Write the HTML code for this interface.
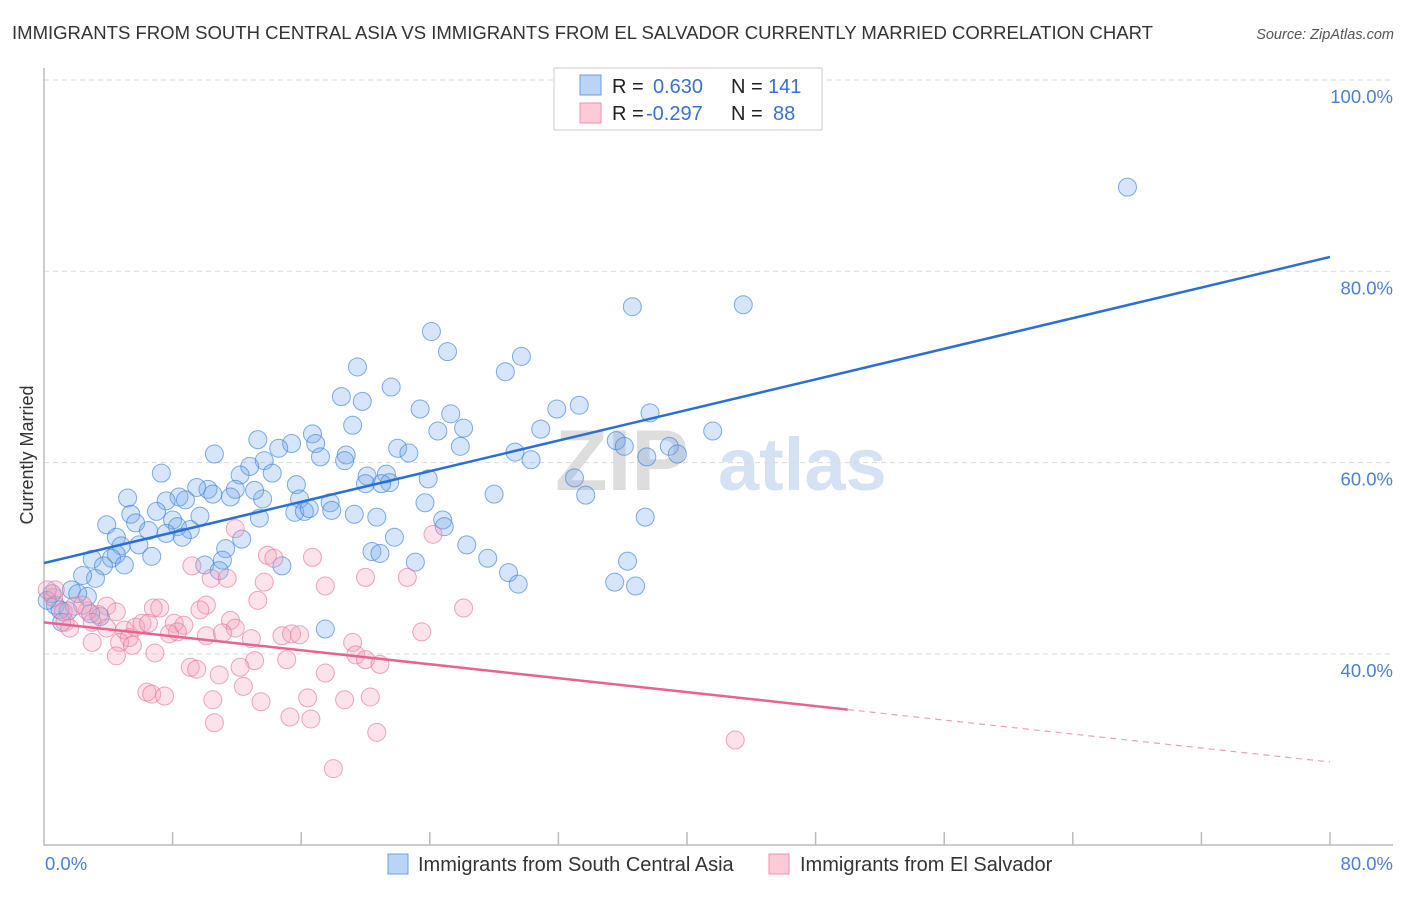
<!DOCTYPE html>
<html><head><meta charset="utf-8"><style>
body{margin:0;background:#fff;font-family:"Liberation Sans",sans-serif;}
svg text{font-family:"Liberation Sans",sans-serif;}
</style></head><body>
<svg id="chart" width="1406" height="892" xmlns="http://www.w3.org/2000/svg">
<text x="12" y="39" font-size="18.5" fill="#333" textLength="1141" lengthAdjust="spacingAndGlyphs">IMMIGRANTS FROM SOUTH CENTRAL ASIA VS IMMIGRANTS FROM EL SALVADOR CURRENTLY MARRIED CORRELATION CHART</text>
<text x="1394" y="39" font-size="14.5" fill="#555" font-style="italic" text-anchor="end">Source: ZipAtlas.com</text>
<g>
<text x="555" y="490" font-size="86" font-weight="bold" fill="#ddd" font-family="Liberation Serif">ZIP</text>
<text x="718" y="490" font-size="74" font-weight="bold" fill="#d4e2f4">atlas</text>
</g>
<g id="grid"></g>
<g id="axes"></g>
<g id="pts"></g>
<g id="trend"></g>
<text transform="translate(33,455) rotate(-90)" font-size="18" fill="#333" text-anchor="middle">Currently Married</text>
<g>
<rect x="554" y="68" width="268" height="62" fill="#fff" stroke="#ccc"/>
<rect x="580" y="75" width="21" height="20" fill="#b9d4f5" stroke="#6a9fe0"/>
<rect x="580" y="103" width="21" height="20" fill="#fdcad8" stroke="#ee93ae"/>
<text x="612" y="93" font-size="20" fill="#222">R = </text>
<text x="653" y="93" font-size="20" fill="#3a6fd8">0.630</text>
<text x="731" y="93" font-size="20" fill="#222">N = </text>
<text x="768" y="93" font-size="20" fill="#3a6fd8">141</text>
<text x="612" y="120" font-size="20" fill="#222">R = </text>
<text x="646" y="120" font-size="20" fill="#3a6fd8">-0.297</text>
<text x="731" y="120" font-size="20" fill="#222">N = </text>
<text x="773" y="120" font-size="20" fill="#3a6fd8">88</text>
</g>
<g>
<rect x="388" y="854" width="20" height="20" fill="#b9d4f5" stroke="#6a9fe0"/>
<text x="418" y="871" font-size="20" fill="#333">Immigrants from South Central Asia</text>
<rect x="769" y="854" width="20" height="20" fill="#fdcad8" stroke="#ee93ae"/>
<text x="800" y="871" font-size="20" fill="#333">Immigrants from El Salvador</text>
</g>
</svg>
<script>
const blueX=[67.4,43.5,36.6,24.1,25.1,29.7,28.7,19.5,21.6,18.5,19.8,23.4,31.9,33.3,25.3,37.7,19.2,26.1,24.5,16.7,30.9,41.6,13.3,15.4,35.6,22.0,38.9,14.6,16.9,22.7,25.9,10.6,17.2,18.8,36.1,37.5,39.4,29.3,30.3,13.7,18.7,7.3,12.8,12.2,20.1,21.3,21.5,20.0,21.0,14.2,15.7,10.2,11.9,9.5,10.5,8.4,5.2,13.6,15.9,11.6,13.1,7.6,8.8,17.8,23.9,28.0,33.0,33.7,23.7,7.0,5.4,8.0,9.7,15.6,16.2,16.5,19.3,17.9,20.7,24.8,24.9,13.4,3.9,5.7,8.3,9.1,6.5,4.5,7.6,8.6,12.3,21.8,26.3,11.3,5.9,4.8,4.5,6.7,3.0,4.2,20.4,20.9,27.6,23.1,36.3,11.1,10.0,14.8,28.9,3.7,5.0,3.2,2.4,29.5,35.5,36.8,10.9,0.5,1.7,2.7,0.7,1.5,1.0,17.5,1.1,3.5,2.1,37.4,2.9,0.2];
const blueY=[88.8,76.5,76.3,73.7,71.6,71.1,69.5,70.0,67.9,66.9,66.4,65.6,65.6,66.0,65.1,65.2,63.9,63.6,63.3,63.0,63.5,63.3,62.4,62.0,62.3,61.5,61.7,61.5,62.0,61.0,61.7,60.9,60.6,60.8,61.7,60.6,60.9,61.1,60.3,60.2,60.2,58.9,59.6,58.7,58.6,58.8,57.9,57.8,57.8,58.9,57.7,57.2,57.2,57.4,56.7,56.4,56.3,56.2,56.2,56.4,57.1,56.0,56.1,55.8,58.3,56.7,58.4,56.6,55.8,54.9,54.6,54.0,54.4,54.8,54.9,55.2,54.6,55.0,54.3,54.0,53.3,54.2,53.5,53.7,53.3,53.0,52.9,52.2,52.6,52.2,52.0,52.2,51.4,51.0,51.4,51.3,50.4,50.2,49.9,50.0,50.7,50.5,50.0,49.6,49.7,49.8,49.3,49.2,48.5,49.2,49.3,47.9,48.2,47.3,47.5,47.1,48.7,46.3,46.7,46.0,45.1,44.5,44.6,42.6,43.3,43.9,46.3,54.3,44.2,45.6];
const pinkX=[11.9,13.9,14.3,16.7,9.2,20.0,10.4,11.4,13.7,17.5,13.3,10.1,6.8,7.2,9.7,26.1,8.1,8.7,11.6,3.9,2.7,4.5,3.4,3.0,1.3,1.6,5.0,5.7,6.1,6.5,3.9,8.3,11.9,14.8,15.4,15.9,23.5,10.1,11.1,7.8,5.3,12.9,4.7,3.0,5.5,19.2,4.5,6.9,19.4,20.0,20.9,13.1,9.1,9.5,12.2,15.1,17.5,10.9,12.4,6.4,6.7,7.5,13.5,10.5,16.4,18.7,20.3,10.6,15.3,16.6,20.7,18.0,43.0,0.6,1.2,1.9,24.2,22.6,0.7,2.4,0.2];
const pinkY=[53.1,50.3,50.0,50.1,49.2,48.0,47.9,47.9,47.5,47.1,45.6,45.1,44.8,44.8,44.6,44.8,43.2,43.0,43.5,45.0,44.5,44.4,44.1,43.3,43.3,42.7,42.5,42.8,43.2,43.2,42.7,42.3,42.7,41.9,42.1,42.0,42.3,41.9,42.2,42.1,41.7,41.6,41.2,41.2,40.9,41.2,39.8,40.1,39.9,39.4,38.9,39.3,38.6,38.4,38.6,39.4,38.0,37.8,36.6,36.0,35.8,35.6,35.0,35.2,35.4,35.2,35.5,32.8,33.4,33.2,31.8,28.0,31.0,45.9,44.4,45.0,52.5,48.0,46.7,45.1,46.7];
const blueTrend=[49.5,81.5];   // y at x=0 and x=80
const pinkTrend=[43.3,28.7];   // y at x=0 and x=80
const pinkSolidEnd=50;
const yTicks=[100,80,60,40];
const yTickLabels=["100.0%","80.0%","60.0%","40.0%"];
const xTicks=[0,8,16,24,32,40,48,56,64,72,80];

const NS="http://www.w3.org/2000/svg";
const X=v=>44+v*16.075;
const Y=v=>80+(100-v)*9.565;
function mk(tag,attrs,parent){const e=document.createElementNS(NS,tag);for(const k in attrs)e.setAttribute(k,attrs[k]);parent.appendChild(e);return e;}
const grid=document.getElementById('grid'),axes=document.getElementById('axes'),pts=document.getElementById('pts'),trend=document.getElementById('trend');
yTicks.forEach((t,i)=>{
  const l=mk('line',{x1:44,x2:1393,y1:Y(t),y2:Y(t),stroke:'#d9d9d9','stroke-dasharray':'5,4'},grid);
  
  
  const tx=mk('text',{x:1393,y:Y(t)+23,'font-size':18.5,fill:'#4a7fd4','text-anchor':'end'},grid);
  tx.textContent=yTickLabels[i];
  
  
});
const ax=mk('path',{d:`M44 68 V845 H1393`,fill:'none',stroke:'#bbb','stroke-width':1.5},axes);


xTicks.forEach(t=>{
  if(t===0)return;
  const l=mk('line',{x1:X(t),x2:X(t),y1:832,y2:845,stroke:'#bbb','stroke-width':1.5},axes);
  
  
});
const x0=mk('text',{x:45,y:870,'font-size':18.5,fill:'#4a7fd4'},axes);x0.textContent='0.0%';


const x1=mk('text',{x:1393,y:870,'font-size':18.5,fill:'#4a7fd4','text-anchor':'end'},axes);x1.textContent='80.0%';


blueX.forEach((v,i)=>{
  const c=mk('circle',{cx:X(v),cy:Y(blueY[i]),r:9,fill:'rgba(120,170,235,0.3)',stroke:'rgba(60,130,220,0.65)','stroke-width':1},pts);
  
  
});
pinkX.forEach((v,i)=>{
  const c=mk('circle',{cx:X(v),cy:Y(pinkY[i]),r:9,fill:'rgba(245,160,185,0.3)',stroke:'rgba(230,110,150,0.6)','stroke-width':1},pts);
  
  
});
const bl=mk('line',{x1:X(0),y1:Y(blueTrend[0]),x2:X(80),y2:Y(blueTrend[1]),stroke:'#2b6fd6','stroke-width':2.5},trend);


const pAt=x=>pinkTrend[0]+(pinkTrend[1]-pinkTrend[0])*x/80;
const pl=mk('line',{x1:X(0),y1:Y(pAt(0)),x2:X(pinkSolidEnd),y2:Y(pAt(pinkSolidEnd)),stroke:'#e8638f','stroke-width':2.5},trend);


const pd=mk('line',{x1:X(pinkSolidEnd),y1:Y(pAt(pinkSolidEnd)),x2:X(80),y2:Y(pAt(80)),stroke:'#eea0b8','stroke-width':1.2,'stroke-dasharray':'6,5'},trend);


</script>
</body></html>
